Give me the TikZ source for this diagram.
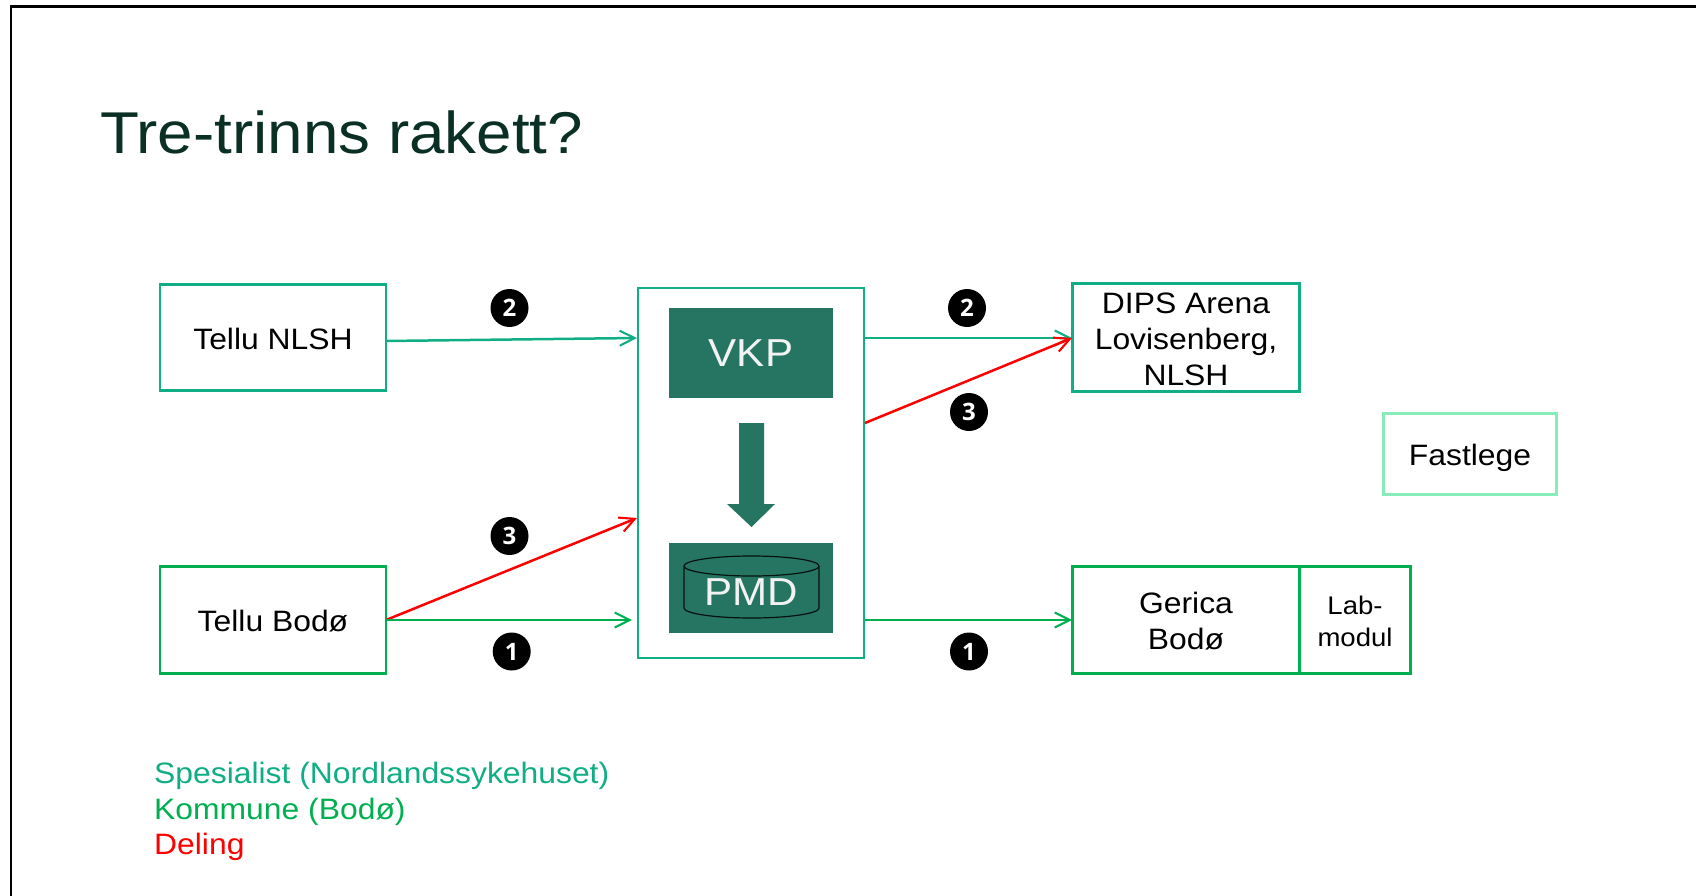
\documentclass[tikz,border=0pt]{standalone}
\usepackage{fontspec}
\setmainfont[FakeStretch=1.08]{Liberation Sans}
\newfontfamily\badgefont{Open Sans}
\usetikzlibrary{arrows.meta}
\definecolor{spec}{HTML}{10AE84}
\definecolor{komm}{HTML}{00B050}
\definecolor{fast}{HTML}{86EDB8}
\definecolor{deep}{HTML}{267562}
\definecolor{titlec}{HTML}{0A2F25}
\newcommand{\fs}[2]{\fontsize{#1}{#2}\selectfont}
\newcommand{\dn}[1]{\raisebox{-4.5pt}[\height][\depth]{\begin{tabular}{@{}c@{}}#1\end{tabular}}}
\tikzset{
  x=1pt,y=-1pt,
  boxbase/.style={draw,line width=2.6pt,fill=white,inner sep=0pt,outer sep=0pt,align=center,text=black,font=\fs{29.5}{36}},
  specbox/.style={boxbase,draw=spec},
  kommbox/.style={boxbase,draw=komm},
  fastbox/.style={boxbase,draw=fast},
  darkbox/.style={fill=deep,inner sep=0pt,outer sep=0pt,minimum width=164pt,minimum height=90pt,text=white!95!black,font=\fs{39}{44}},
  flow/.style={line width=2.5pt,-{Straight Barb[length=15pt,width=15pt,line width=2.1pt]}},
  specflow/.style={flow,color=spec},
  kommflow/.style={flow,color=komm},
  shareflow/.style={flow,color=red},
  badge/.style={circle,fill=black,text=white,inner sep=0pt,outer sep=0pt,minimum size=38pt,font=\badgefont\bfseries\fs{24}{24}},
  legendtext/.style={anchor=base west,inner sep=0pt,font=\fs{29.5}{35}}
}
\begin{document}
\begin{tikzpicture}
\useasboundingbox (0,0) rectangle (1696,896);
\fill[white] (0,0) rectangle (1696,896);
\draw[black,line width=2.5pt] (11,896) -- (11,6.5) -- (1696,6.5);

\node[anchor=base west,inner sep=0pt,text=titlec,font=\fs{59}{64}] (title) at (100,154) {Tre-trinns rakett?};

\node[specbox,minimum width=226pt,minimum height=106pt] (tn) at (273,337.5) {\dn{Tellu NLSH}};
\node[kommbox,minimum width=226pt,minimum height=107pt] (tb) at (273,620) {\dn{Tellu Bodø}};
\node[specbox,minimum width=226pt,minimum height=370pt] (core) at (751,473) {};
\node[darkbox] (vkp) at (751,353) {VKP};
\node[darkbox] (pmd) at (751,587.5) {};
\node[specbox,minimum width=227pt,minimum height=107pt] (dips) at (1186,337.5) {\dn{DIPS Arena\\Lovisenberg,\\NLSH}};
\node[fastbox,minimum width=173pt,minimum height=81pt] (fl) at (1470,454) {\raisebox{-4pt}[\height][\depth]{Fastlege}};
\node[kommbox,minimum width=227pt,minimum height=107pt] (ger) at (1186,620) {\dn{Gerica\\Bodø}};
\node[kommbox,minimum width=111pt,minimum height=107pt,font=\fs{25.5}{32}] (lab) at (1355,620) {\dn{Lab-\\modul}};

% block arrow from VKP to PMD
\fill[deep] (739,423) -- (764,423) -- (764,504) -- (775,504) -- (751.5,527) -- (727,504) -- (739,504) -- cycle;

% database cylinder in PMD
\draw[black!85!deep,line width=1.2pt] (684,566) -- (684,608) arc[start angle=180,end angle=360,x radius=67.5pt,y radius=10pt] -- (819,566);
\draw[black!85!deep,line width=1.2pt] (751.5,566) ellipse[x radius=67.5pt,y radius=10pt];
\node[inner sep=0pt,text=white!95!black,font=\fs{39}{44}] (pmdt) at (751,592) {PMD};

\coordinate (tnE) at (386,341);
\coordinate (coreA) at (637,338);
\coordinate (coreB) at (637,518);
\coordinate (coreC) at (632,620);
\coordinate (coreD) at (865,338);
\coordinate (coreE) at (865,423);
\coordinate (coreF) at (865,620);
\coordinate (dipsW) at (1072,338);
\coordinate (gerW) at (1072,620);

\draw[specflow] (tnE) -- (coreA);
\draw[shareflow] (tb.east) -- (coreB);
\draw[kommflow] (tb.east) -- (coreC);
\draw[specflow] (coreD) -- (dipsW);
\draw[shareflow] (coreE) -- (dipsW);
\draw[kommflow] (coreF) -- (gerW);

\node[badge] (b1) at (509.5,308) {2};
\node[badge] (b2) at (509.5,536) {3};
\node[badge] (b3) at (511.7,651.5) {1};
\node[badge] (b4) at (967,308) {2};
\node[badge] (b5) at (969,412) {3};
\node[badge] (b6) at (969,651.5) {1};

\node[legendtext,text=spec] (l1) at (154,783) {Spesialist (Nordlandssykehuset)};
\node[legendtext,text=komm] (l2) at (154,819) {Kommune (Bodø)};
\node[legendtext,text=red] (l3) at (154,854) {Deling};
\end{tikzpicture}
\end{document}
